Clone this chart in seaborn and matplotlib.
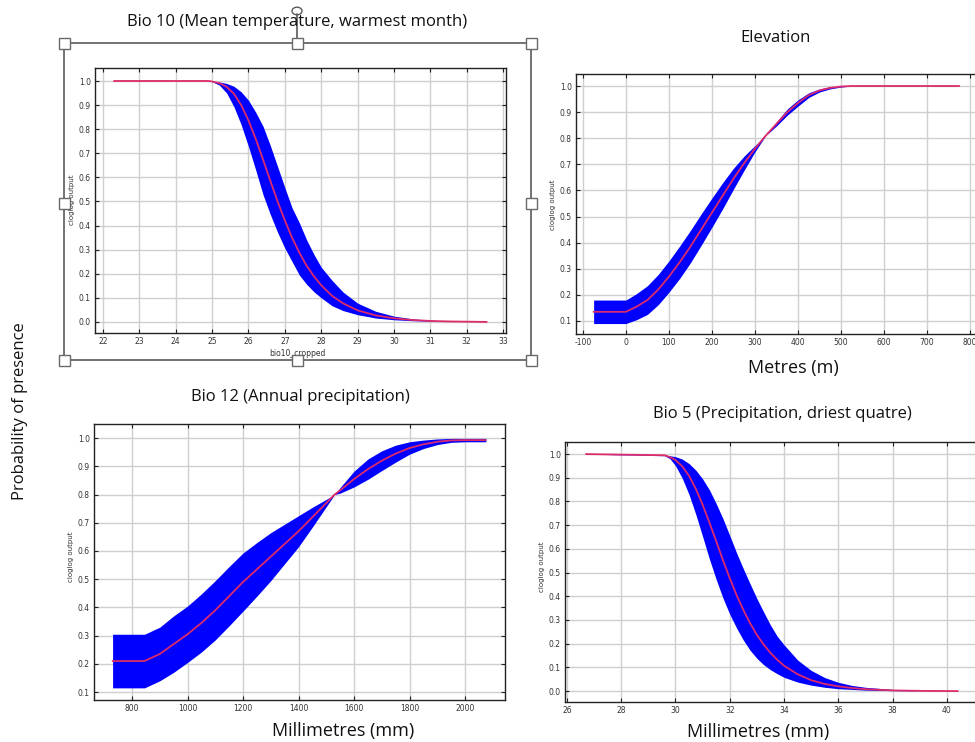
import matplotlib
matplotlib.use("Agg")
import matplotlib.pyplot as plt
from matplotlib.patches import Rectangle, Circle
from matplotlib.lines import Line2D
import seaborn as sns

# ---- Bio 10: mean temperature of warmest month ----
bio10_x = [22.3, 24.9, 25.0, 25.2, 25.4, 25.6, 25.8, 26.0, 26.2, 26.4, 26.6, 26.8, 27.0, 27.2,
           27.4, 27.6, 27.8, 28.0, 28.3, 28.6, 29.0, 29.5, 30.0, 30.5, 31.0, 31.5, 32.55]
bio10_mean = [1.0, 1.0, 0.998, 0.991, 0.976, 0.947, 0.900, 0.836, 0.759, 0.674, 0.586, 0.500, 0.421,
              0.349, 0.287, 0.233, 0.189, 0.152, 0.108, 0.077, 0.048, 0.027, 0.015, 0.008, 0.004,
              0.002, 0.0]
bio10_hi = [1.0, 1.0, 0.998, 0.996, 0.990, 0.978, 0.955, 0.920, 0.870, 0.812, 0.732, 0.645, 0.557,
            0.473, 0.411, 0.340, 0.280, 0.227, 0.172, 0.124, 0.078, 0.044, 0.024, 0.013, 0.007,
            0.002, 0.0]
bio10_lo = [1.0, 1.0, 0.997, 0.983, 0.950, 0.893, 0.818, 0.728, 0.630, 0.528, 0.446, 0.372, 0.306,
            0.250, 0.194, 0.156, 0.125, 0.100, 0.067, 0.047, 0.030, 0.016, 0.009, 0.005, 0.003,
            0.002, 0.0]

# ---- Elevation ----
elev_x = [-75, 0, 25, 50, 75, 100, 125, 150, 175, 200, 225, 250, 275, 300, 325, 350, 375, 400,
          425, 450, 475, 500, 525, 775]
elev_mean = [0.135, 0.135, 0.155, 0.18, 0.22, 0.27, 0.325, 0.385, 0.45, 0.515, 0.58, 0.645, 0.705,
             0.76, 0.81, 0.855, 0.9, 0.935, 0.965, 0.983, 0.993, 0.998, 1.0, 1.0]
elev_hi = [0.18, 0.18, 0.205, 0.235, 0.278, 0.33, 0.387, 0.447, 0.51, 0.571, 0.63, 0.685, 0.732,
           0.772, 0.81, 0.863, 0.912, 0.947, 0.974, 0.989, 0.997, 1.0, 1.0, 1.0]
elev_lo = [0.09, 0.09, 0.105, 0.125, 0.162, 0.21, 0.263, 0.323, 0.39, 0.459, 0.53, 0.605, 0.678,
           0.748, 0.81, 0.847, 0.888, 0.923, 0.956, 0.977, 0.989, 0.996, 1.0, 1.0]

# ---- Bio 12: annual precipitation ----
bio12_x = [730, 845, 900, 950, 1000, 1050, 1100, 1150, 1200, 1250, 1300, 1350, 1400, 1450, 1500,
           1530, 1550, 1600, 1650, 1700, 1750, 1800, 1850, 1900, 1950, 2000, 2075]
bio12_mean = [0.21, 0.21, 0.235, 0.27, 0.305, 0.345, 0.39, 0.44, 0.49, 0.535, 0.58, 0.625, 0.67,
              0.72, 0.77, 0.80, 0.815, 0.855, 0.89, 0.92, 0.945, 0.965, 0.978, 0.987, 0.992, 0.993,
              0.993]
bio12_hi = [0.305, 0.305, 0.33, 0.37, 0.405, 0.448, 0.495, 0.545, 0.593, 0.63, 0.665, 0.695, 0.725,
            0.755, 0.783, 0.80, 0.825, 0.883, 0.926, 0.955, 0.975, 0.987, 0.993, 0.997, 0.999,
            0.999, 0.999]
bio12_lo = [0.115, 0.115, 0.14, 0.17, 0.205, 0.242, 0.285, 0.335, 0.387, 0.44, 0.495, 0.555, 0.615,
            0.685, 0.757, 0.80, 0.805, 0.827, 0.854, 0.885, 0.915, 0.943, 0.963, 0.977, 0.985,
            0.987, 0.987]

# ---- Bio 5: precipitation of driest quarter ----
bio5_x = [26.7, 29.6, 29.8, 30.0, 30.25, 30.5, 30.75, 31.0, 31.25, 31.5, 31.75, 32.0, 32.25, 32.5,
          32.75, 33.0, 33.25, 33.5, 33.75, 34.0, 34.5, 35.0, 35.5, 36.0, 36.5, 37.0, 38.0, 39.0, 40.4]
bio5_mean = [1.0, 0.995, 0.987, 0.975, 0.948, 0.908, 0.853, 0.786, 0.711, 0.632, 0.552, 0.476,
             0.405, 0.342, 0.286, 0.237, 0.196, 0.161, 0.132, 0.107, 0.071, 0.046, 0.030, 0.020,
             0.013, 0.008, 0.003, 0.001, 0.0]
bio5_hi = [1.0, 0.996, 0.993, 0.989, 0.979, 0.960, 0.932, 0.895, 0.849, 0.791, 0.727, 0.656, 0.583,
           0.516, 0.452, 0.390, 0.333, 0.278, 0.231, 0.195, 0.131, 0.087, 0.057, 0.037, 0.024,
           0.016, 0.007, 0.001, 0.0]
bio5_lo = [1.0, 0.993, 0.980, 0.951, 0.898, 0.829, 0.745, 0.652, 0.557, 0.471, 0.392, 0.324, 0.266,
           0.215, 0.172, 0.138, 0.111, 0.090, 0.073, 0.058, 0.038, 0.025, 0.016, 0.010, 0.007,
           0.004, 0.002, 0.001, 0.0]

titles = ["Bio 10 (Mean temperature, warmest month)", "Elevation",
          "Bio 12 (Annual precipitation)", "Bio 5 (Precipitation, driest quatre)"]
unit_labels = ["Metres (m)", "Millimetres (mm)", "Millimetres (mm)"]
inner_ylabel = "cloglog output"
inner_xlabel = "bio10_cropped"
shared_ylabel = "Probability of presence"

bio10_xticks = list(range(22, 34))
elev_xticks = list(range(-100, 900, 100))
bio12_xticks = list(range(800, 2200, 200))
bio5_xticks = list(range(26, 42, 2))
ticks_from_zero = [i / 10 for i in range(0, 11)]
ticks_from_tenth = [i / 10 for i in range(1, 11)]

BLUE = "#0000ff"
RED = "#dc2a6a"
GRID = "#cfcfcf"

sns.set_style("whitegrid")
plt.rcParams["font.family"] = ["Open Sans", "DejaVu Sans"]

W, H = 975, 742
fig = plt.figure(figsize=(W / 100, H / 100), dpi=100)


def box(left, top, right, bottom):
    return [left / W, 1 - bottom / H, (right - left) / W, (bottom - top) / H]


def fpt(x, y):
    return x / W, 1 - y / H


panels = [
    dict(rect=box(95, 68, 506, 333), x=bio10_x, mean=bio10_mean, lo=bio10_lo, hi=bio10_hi,
         xlim=(21.78, 33.08), ylim=(-0.046, 1.054), xticks=bio10_xticks, yticks=ticks_from_zero,
         fmt="{:d}"),
    dict(rect=box(576, 74, 980, 334), x=elev_x, mean=elev_mean, lo=elev_lo, hi=elev_hi,
         xlim=(-116, 823), ylim=(0.05, 1.046), xticks=elev_xticks, yticks=ticks_from_tenth,
         fmt="{:d}"),
    dict(rect=box(94, 424, 505, 700), x=bio12_x, mean=bio12_mean, lo=bio12_lo, hi=bio12_hi,
         xlim=(663, 2144), ylim=(0.072, 1.05), xticks=bio12_xticks, yticks=ticks_from_tenth,
         fmt="{:d}"),
    dict(rect=box(565, 442, 985, 702), x=bio5_x, mean=bio5_mean, lo=bio5_lo, hi=bio5_hi,
         xlim=(25.93, 41.4), ylim=(-0.046, 1.051), xticks=bio5_xticks, yticks=ticks_from_zero,
         fmt="{:d}"),
]

for p in panels:
    ax = fig.add_axes(p["rect"])
    ax.set_facecolor("white")
    ax.fill_between(p["x"], p["lo"], p["hi"], color=BLUE, linewidth=0, zorder=2)
    sns.lineplot(x=p["x"], y=p["mean"], ax=ax, color=RED, linewidth=1.3, sort=False,
                 estimator=None, zorder=3)
    ax.set_xlim(*p["xlim"])
    ax.set_ylim(*p["ylim"])
    ax.set_xticks(p["xticks"])
    ax.set_xticklabels([p["fmt"].format(t) for t in p["xticks"]], fontfamily="DejaVu Sans")
    ax.set_yticks(p["yticks"])
    ax.set_yticklabels([f"{t:.1f}" for t in p["yticks"]], fontfamily="DejaVu Sans")
    ax.grid(True, color=GRID, linewidth=1.0)
    ax.set_axisbelow(True)
    ax.tick_params(direction="in", length=3, width=0.8, top=True, right=True, bottom=True,
                   left=True, labelsize=5.5, pad=3, labelcolor="#333333", color="#222222")
    for s in ax.spines.values():
        s.set_color("#222222")
        s.set_linewidth(1.0)
    ax.set_xlabel("")
    ax.set_ylabel("")

# small axis captions inside each panel
for (x, y) in [(72, 200), (553, 205), (71, 557), (542, 567)]:
    fx, fy = fpt(x, y)
    fig.text(fx, fy, inner_ylabel, rotation=90, ha="center", va="center", fontsize=5,
             color="#333333", family="DejaVu Sans")
fx, fy = fpt(297, 353)
fig.text(fx, fy, inner_xlabel, ha="center", va="center", fontsize=5.5, color="#333333",
         family="DejaVu Sans")

# selection frame around the first panel
l, t, r, b = 64, 43, 531, 360
frame_color = "#5a5a5a"
for (xa, ya, xb, yb) in [(l, t, r, t), (l, b, r, b), (l, t, l, b), (r, t, r, b), (297, 14, 297, t)]:
    (x0, y0), (x1, y1) = fpt(xa, ya), fpt(xb, yb)
    fig.add_artist(Line2D([x0, x1], [y0, y1], color=frame_color, linewidth=1.2,
                          transform=fig.transFigure, zorder=5))
cx, cy = fpt(297, 11)
fig.add_artist(Circle((cx, cy), 5 / W, transform=fig.transFigure, fill=False,
                      edgecolor=frame_color, linewidth=1.0, zorder=5))
hs = 11
for (hx, hy) in [(l, t), (297, t), (r, t), (l, 203), (r, 203), (l, b), (297, b), (r, b)]:
    x0, y0 = fpt(hx - hs / 2, hy + hs / 2)
    fig.add_artist(Rectangle((x0, y0), hs / W, hs / H, transform=fig.transFigure,
                             facecolor="white", edgecolor="#6a6a6a", linewidth=1.0, zorder=6))

# panel titles and unit captions
for text, (x, y) in zip(titles, [(297, 22), (776, 38), (300, 397), (782, 414)]):
    fx, fy = fpt(x, y)
    fig.text(fx, fy, text, ha="center", va="center", fontsize=12, color="#111111", zorder=7)
for text, (x, y) in zip(unit_labels, [(793, 368), (343, 731), (758, 732)]):
    fx, fy = fpt(x, y)
    fig.text(fx, fy, text, ha="center", va="center", fontsize=13, color="#111111")

fx, fy = fpt(20, 411)
fig.text(fx, fy, shared_ylabel, rotation=90, ha="center", va="center", fontsize=12,
         color="#111111")

fig.savefig("out.png", dpi=100, facecolor="white")
